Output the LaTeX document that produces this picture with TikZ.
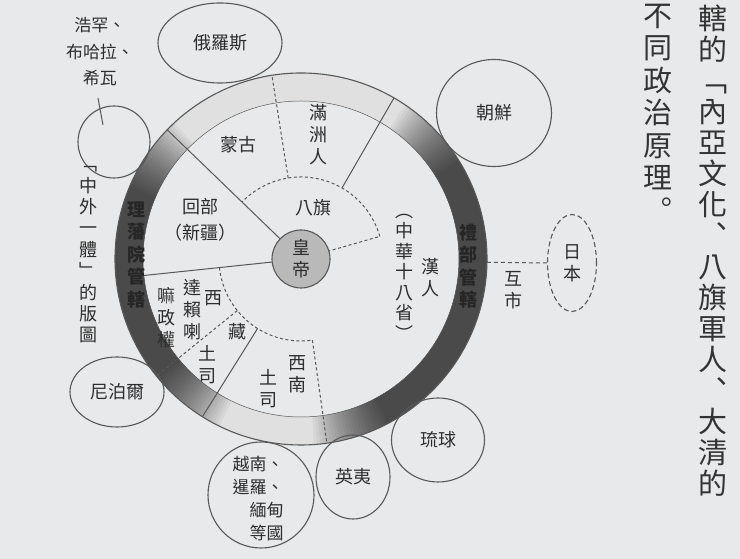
\documentclass[tikz,border=0pt]{standalone}
\usepackage{fontspec}
\setmainfont{Noto Sans CJK TC}
\usetikzlibrary{positioning,shapes.geometric,calc}
\definecolor{paper}{RGB}{231,233,234}
\definecolor{ink}{RGB}{45,45,45}
\definecolor{pen}{RGB}{88,88,88}

\begin{document}
\begin{tikzpicture}[x=1pt,y=1pt,
  lbl/.style={font=\fontsize{18}{22}\selectfont,text=ink,inner sep=0pt,align=center},
  ringlbl/.style={font=\bfseries\fontsize{18}{22.5}\selectfont,text=black!85,inner sep=0pt,align=center},
  land/.style={draw=pen,line width=1.1pt,ellipse,inner sep=0pt,font=\fontsize{18}{22}\selectfont,text=ink,align=center},
  pagecol/.style={font=\fontsize{29}{31}\selectfont,text=black!80,inner sep=0pt,align=center},
  sect/.style={draw=pen,line width=1pt},
  sectd/.style={draw=pen,line width=1pt,dash pattern=on 3pt off 2.5pt}]

\fill[paper] (0,0) rectangle (740,559);
\useasboundingbox (0,0) rectangle (740,559);
\coordinate (O) at (301,300);

% the ring
\fill[gray!24,even odd rule] (O) circle (186) (O) circle (158);
\foreach \d in {0,...,24}{
  \pgfmathsetmacro\ta{157-\d}\pgfmathsetmacro\tb{220+\d}
  \fill[black,opacity=0.04] ([shift={(O)}]\ta:186) arc[start angle=\ta,end angle=\tb,radius=186]
    -- ([shift={(O)}]\tb:158) arc[start angle=\tb,end angle=\ta,radius=158] -- cycle;
  \pgfmathsetmacro\ta{-62-\d}\pgfmathsetmacro\tb{32+\d}
  \fill[black,opacity=0.04] ([shift={(O)}]\ta:186) arc[start angle=\ta,end angle=\tb,radius=186]
    -- ([shift={(O)}]\tb:158) arc[start angle=\tb,end angle=\ta,radius=158] -- cycle;
}
\draw[pen,line width=1.1pt] (O) circle (186);
\draw[pen,line width=0.5pt] (O) circle (158);

% sectors
\foreach \ang/\ra/\rb in {136/0/186,186/0/158,60/82/186,238/82/186}
  \draw[sect] ([shift={(O)}]\ang:\ra) -- ([shift={(O)}]\ang:\rb);
\foreach \ang/\ra/\rb in {99/82/186,219/82/186,278/82/186,16/0/82}
  \draw[sectd] ([shift={(O)}]\ang:\ra) -- ([shift={(O)}]\ang:\rb);
\draw[sectd] ([shift={(O)}]16:82) arc[start angle=16,end angle=136,radius=82];
\draw[sectd] ([shift={(O)}]186:82) arc[start angle=186,end angle=278,radius=82];

\node[circle,draw=pen,line width=1.1pt,fill=gray!55,minimum size=58pt,lbl] (huangdi) at (O) {皇\\帝};

\node[lbl] (manzhou) at (318,424) {滿\\洲\\人};
\node[lbl] (menggu) at (238,414) {蒙古};
\node[lbl] (baqi) at (313,351) {八旗};
\node[lbl,font=\fontsize{18}{26}\selectfont] (huibu) at (200,339) {回部\\（新疆）};
\node[lbl] (hanren) at (430,281) {漢\\人};
\node[lbl,font=\fontsize{18}{20.5}\selectfont] (shiba) at (404,282) {︵\\中\\華\\十\\八\\省\\︶};
\node[lbl] (xinan) at (297,185) {西\\南};
\node[lbl] (xntusi) at (268,170) {土\\司};
\node[lbl] (xi) at (213,261) {西};
\node[lbl] (zang) at (237,227) {藏};
\node[lbl] (dalai) at (192,249) {達\\賴\\喇};
\node[lbl] (zhengquan) at (166,241) {嘛\\政\\權};
\node[lbl] (xztusi) at (207,194) {土\\司};

\node[ringlbl] (lifan) at (136,304) {理\\藩\\院\\管\\轄};
\node[ringlbl] (libu) at (468,293) {禮\\部\\管\\轄};

% neighbours
\node[land,minimum width=124pt,minimum height=80pt] (eluosi) at (220,516) {俄羅斯};
\node[land,minimum size=72pt] (haohan) at (114,417) {};
\node[lbl,font=\fontsize{17}{26.5}\selectfont] (haohanlbl) at (100,507) {浩罕、\\布哈拉、\\希瓦};
\coordinate (lead1) at (98,461);
\coordinate (lead2) at (103,434);
\draw[pen,line width=1pt] (lead1) -- (lead2);
\node[lbl,font=\fontsize{18}{21.4}\selectfont] (bantu) at (88,304) {﹁\\中\\外\\一\\體\\﹂\\的\\版\\圖};
\node[land,minimum width=94pt,minimum height=70pt] (niboer) at (117,167) {尼泊爾};
\node[land,minimum size=106pt] (yuenan) at (261,64) {};
\node[lbl,align=right,font=\fontsize{17}{23}\selectfont] (yuenanlbl) at (258,60) {越南、\\暹羅、\\緬甸\\等國};
\node[land,minimum width=74pt,minimum height=84pt] (yingyi) at (353,82) {英夷};
\node[land,minimum width=93pt,minimum height=84pt] (liuqiu) at (438,119) {琉球};
\node[land,minimum width=115pt,minimum height=107pt] (chaoxian) at (494,446) {朝鮮};
\node[land,dash pattern=on 5pt off 3pt,minimum width=49pt,minimum height=97pt] (riben) at (572,296) {日\\本};
\coordinate (libuedge) at ([shift={(O)}]-1:186);
\draw[pen,line width=1pt,dash pattern=on 4pt off 3pt] (libuedge) -- (riben.west);
\node[lbl] (hushi) at (513,269) {互\\市};

% book text
\node[pagecol] (col1) at (713,308.5) {轄\\的\\﹁\\內\\亞\\文\\化\\︑\\八\\旗\\軍\\人\\︑\\大\\清\\的};
\node[pagecol,font=\fontsize{29}{32.5}\selectfont] (col2) at (658,446.5) {不\\同\\政\\治\\原\\理\\︒};
\end{tikzpicture}
\end{document}
